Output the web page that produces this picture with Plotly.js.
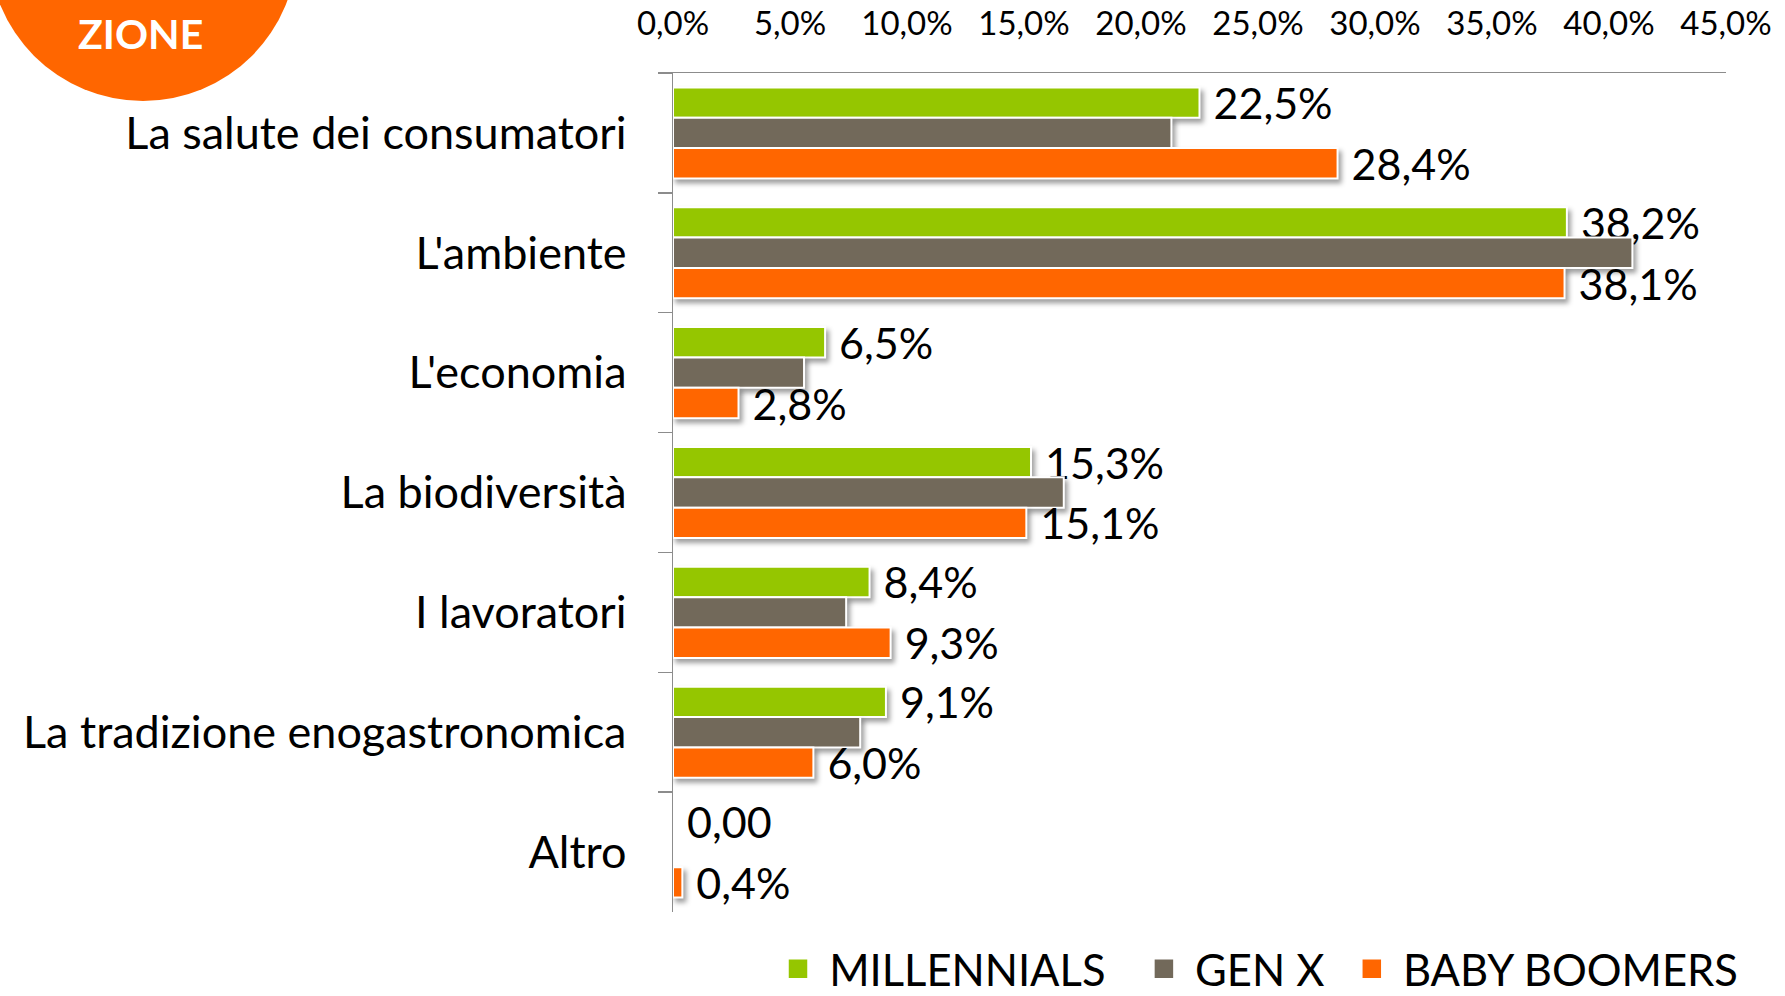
<!DOCTYPE html>
<html>
<head>
<meta charset="utf-8">
<script src="https://cdn.plot.ly/plotly-3.0.1.min.js"></script>
<style>
  html, body { margin: 0; padding: 0; background: #ffffff; }
  #chart { width: 1785px; height: 996px; }
  .barlayer .trace .point path { filter: drop-shadow(3px 4px 2.5px rgba(0,0,0,0.38)); }
  .legend .legendpoints path { transform: translate(20px, 0px) scale(1.85); }
</style>
</head>
<body>
<div id="chart"></div>
<script>
// ---- data ----
const categories = [
  "La salute dei consumatori",
  "L'ambiente",
  "L'economia",
  "La biodiversità",
  "I lavoratori",
  "La tradizione enogastronomica",
  "Altro"
];
const seriesNames = ["MILLENNIALS", "GEN X", "BABY BOOMERS"];
const millennials = [22.5, 38.2, 6.5, 15.3, 8.4, 9.1, 0];
const genX = [21.3, 41.0, 5.6, 16.7, 7.4, 8.0, 0];
const babyBoomers = [28.4, 38.1, 2.8, 15.1, 9.3, 6.0, 0.4];
const millennialsLabels = ["22,5%", "38,2%", "6,5%", "15,3%", "8,4%", "9,1%", "0,00"];
const babyBoomersLabels = ["28,4%", "38,1%", "2,8%", "15,1%", "9,3%", "6,0%", "0,4%"];
const badgeText = "ZIONE";

// ---- layout geometry (pixels) ----
const W = 1785, H = 996;
const M = { l: 673, r: 59, t: 73, b: 84, autoexpand: false };
const plotW = W - M.l - M.r, plotH = H - M.t - M.b;
const px2x = p => (p - M.l) / plotW;
const py2y = p => (H - M.b - p) / plotH;

const FONT = "Lato, 'Open Sans', sans-serif";
const colors = ["#95C600", "#72695A", "#FF6600"];
const legendPad = ["\u00a0\u00a0\u00a0", "\u00a0\u00a0", ""];

function barTrace(i, values, labels) {
  const t = {
    type: "bar",
    orientation: "h",
    name: "\u00a0" + seriesNames[i] + legendPad[i],
    x: values,
    y: categories,
    marker: {
      color: colors[i],
      line: { color: "#ffffff", width: values.map(v => (v === 0 ? 0 : 2)) }
    },
    hoverinfo: "skip",
    cliponaxis: false,
    constraintext: "none"
  };
  if (labels) {
    t.text = labels;
    t.texttemplate = "\u00a0%{text}";
    t.textposition = "outside";
    t.textfont = { family: FONT, size: 43, color: "#000000" };
  } else {
    t.textposition = "none";
  }
  return t;
}

const data = [
  barTrace(0, millennials, millennialsLabels),
  barTrace(1, genX, null),
  barTrace(2, babyBoomers, babyBoomersLabels)
];

const layout = {
  width: W, height: H,
  margin: M,
  paper_bgcolor: "#ffffff",
  plot_bgcolor: "#ffffff",
  separators: ",.",
  barmode: "group",
  bargap: 0.24,
  bargroupgap: 0,
  font: { family: FONT, color: "#000000" },
  showlegend: true,
  legend: {
    orientation: "h",
    xanchor: "right", x: px2x(1743),
    yanchor: "middle", y: py2y(969),
    font: { family: FONT, size: 43.5, color: "#000000" },
    traceorder: "normal",
    bgcolor: "rgba(0,0,0,0)"
  },
  xaxis: {
    side: "top",
    range: [0, 45],
    dtick: 5,
    tick0: 0,
    tickformat: ".1f",
    ticksuffix: "%",
    ticks: "outside",
    ticklen: 23,
    tickcolor: "rgba(0,0,0,0)",
    showline: true,
    linecolor: "#8c8c8c",
    linewidth: 1.5,
    showgrid: false,
    zeroline: false,
    tickfont: { family: FONT, size: 33, color: "#000000" },
    fixedrange: true
  },
  yaxis: {
    autorange: "reversed",
    type: "category",
    tickson: "boundaries",
    ticks: "outside",
    ticklen: 14,
    tickwidth: 1.5,
    tickcolor: "#8c8c8c",
    ticklabelstandoff: 36,
    showline: true,
    linecolor: "#8c8c8c",
    linewidth: 1.5,
    showgrid: false,
    zeroline: false,
    tickfont: { family: FONT, size: 45, color: "#000000" },
    fixedrange: true
  },
  shapes: [{
    type: "circle",
    xref: "paper", yref: "paper",
    x0: px2x(-11), x1: px2x(297),
    y0: py2y(101), y1: py2y(-207),
    fillcolor: "#FF6600",
    line: { width: 0 },
    layer: "above"
  }],
  annotations: [{
    xref: "paper", yref: "paper",
    x: px2x(140), y: py2y(33),
    xanchor: "center", yanchor: "middle",
    text: "<b>" + badgeText + "</b>",
    showarrow: false,
    font: { family: FONT, size: 41, color: "#ffffff" }
  }]
};

Plotly.newPlot("chart", data, layout, { displayModeBar: false, staticPlot: true });
</script>
</body>
</html>
